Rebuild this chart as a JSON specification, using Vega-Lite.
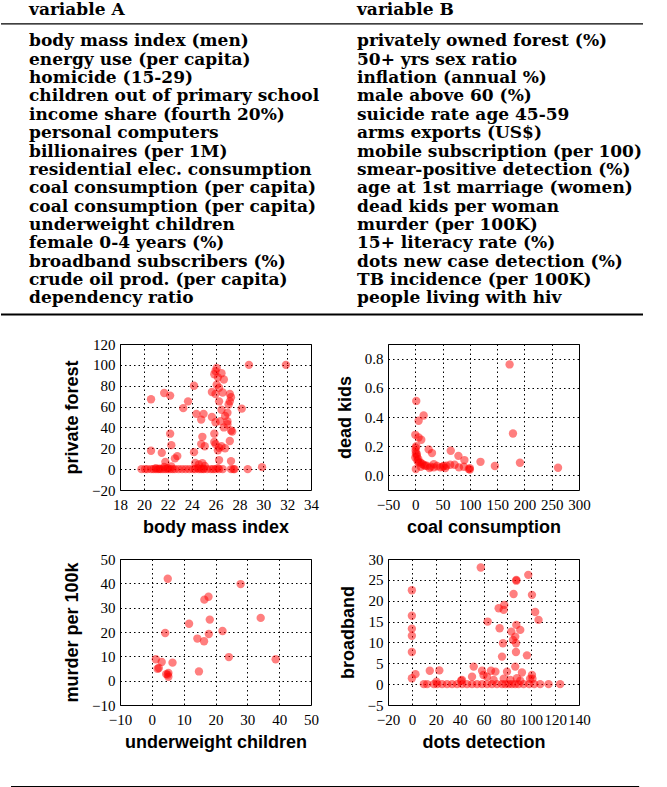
{
  "$schema": "https://vega.github.io/schema/vega-lite/v6.json",
  "padding": 0,
  "background": "white",
  "spacing": 10,
  "config": {
    "view": {"stroke": null},
    "axis": {
      "grid": true, "gridColor": "black", "gridDash": [1.5, 3], "gridOpacity": 1, "gridWidth": 1,
      "domain": false, "ticks": false,
      "labelFont": "Liberation Serif", "labelFontSize": 15, "labelColor": "black",
      "titleFont": "Liberation Sans", "titleFontSize": 18, "titleFontWeight": "bold", "titleColor": "black",
      "labelOverlap": false, "labelFlush": false
    },
    "axisX": {"labelPadding": 7, "titlePadding": 6},
    "axisY": {"labelPadding": 5, "titlePadding": 10},
    "point": {"filled": true, "color": "#ff0000", "opacity": 0.5, "size": 70, "strokeWidth": 0}
  },
  "datasets": {
    "table": [
      {"i": 0, "a": "body mass index (men)", "b": "privately owned forest (%)"},
      {"i": 1, "a": "energy use (per capita)", "b": "50+ yrs sex ratio"},
      {"i": 2, "a": "homicide (15-29)", "b": "inflation (annual %)"},
      {"i": 3, "a": "children out of primary school", "b": "male above 60 (%)"},
      {"i": 4, "a": "income share (fourth 20%)", "b": "suicide rate age 45-59"},
      {"i": 5, "a": "personal computers", "b": "arms exports (US$)"},
      {"i": 6, "a": "billionaires (per 1M)", "b": "mobile subscription (per 100)"},
      {"i": 7, "a": "residential elec. consumption", "b": "smear-positive detection (%)"},
      {"i": 8, "a": "coal consumption (per capita)", "b": "age at 1st marriage (women)"},
      {"i": 9, "a": "coal consumption (per capita)", "b": "dead kids per woman"},
      {"i": 10, "a": "underweight children", "b": "murder (per 100K)"},
      {"i": 11, "a": "female 0-4 years (%)", "b": "15+ literacy rate (%)"},
      {"i": 12, "a": "broadband subscribers (%)", "b": "dots new case detection (%)"},
      {"i": 13, "a": "crude oil prod. (per capita)", "b": "TB incidence (per 100K)"},
      {"i": 14, "a": "dependency ratio", "b": "people living with hiv"}
    ],
    "p1": [
      {"x":28.8,"y":100},{"x":31.9,"y":100},{"x":26.1,"y":97},{"x":26.0,"y":94},{"x":25.9,"y":91},{"x":26.5,"y":92},{"x":26.2,"y":88},{"x":26.7,"y":86},
      {"x":24.2,"y":80},{"x":26.1,"y":81},{"x":26.3,"y":78},{"x":21.7,"y":73},{"x":22.2,"y":70.5},{"x":20.6,"y":67},{"x":23.7,"y":65},{"x":23.3,"y":58.5},
      {"x":25.7,"y":74},{"x":26.0,"y":72},{"x":26.6,"y":73.5},{"x":27.2,"y":72},{"x":27.3,"y":69},{"x":27.2,"y":65},{"x":26.3,"y":65},{"x":27.1,"y":62},
      {"x":26.5,"y":57},{"x":27.0,"y":54},{"x":26.8,"y":51},{"x":28.2,"y":58},{"x":24.4,"y":53},{"x":25.0,"y":53},{"x":24.8,"y":47.5},{"x":25.7,"y":50},
      {"x":26.0,"y":45},{"x":26.4,"y":46},{"x":27.0,"y":46},{"x":26.7,"y":40},{"x":27.0,"y":43},{"x":27.3,"y":37},{"x":27.4,"y":36},{"x":22.2,"y":34},
      {"x":25.9,"y":34},{"x":26.0,"y":24},{"x":26.3,"y":20.5},{"x":26.5,"y":22},{"x":25.9,"y":26},{"x":24.9,"y":31},{"x":24.8,"y":24},{"x":25.1,"y":22},
      {"x":27.2,"y":27},{"x":26.8,"y":20},{"x":26.2,"y":18},{"x":22.3,"y":23},{"x":20.6,"y":17.6},{"x":21.5,"y":15.7},{"x":24.2,"y":16.3},{"x":22.8,"y":12.5},
      {"x":22.6,"y":10.3},{"x":26.3,"y":8.7},{"x":27.3,"y":7.7},{"x":21.8,"y":7},{"x":24.3,"y":6},{"x":24.9,"y":5.8},{"x":24.6,"y":4.5},{"x":21.7,"y":2},
      {"x":22.3,"y":2.5},{"x":25.1,"y":3},{"x":29.9,"y":1.9},{"x":21.0,"y":1},{"x":21.3,"y":0.5},{"x":22.0,"y":1},{"x":24.5,"y":1},{"x":25.0,"y":0.5},{"x":26.2,"y":1},
      {"x":19.8,"y":0},{"x":20.1,"y":0},{"x":20.3,"y":0},{"x":20.6,"y":0},{"x":20.8,"y":0},{"x":21.0,"y":0},{"x":21.2,"y":0},{"x":21.4,"y":0},
      {"x":21.6,"y":0},{"x":21.8,"y":0},{"x":22.0,"y":0},{"x":22.2,"y":0},{"x":22.4,"y":0},{"x":22.6,"y":0},{"x":22.9,"y":0},{"x":23.2,"y":0},
      {"x":23.5,"y":0},{"x":23.8,"y":0},{"x":24.1,"y":0},{"x":24.3,"y":0},{"x":24.6,"y":0},{"x":24.8,"y":0},{"x":25.0,"y":0},{"x":25.3,"y":0},
      {"x":25.6,"y":0},{"x":25.8,"y":0},{"x":26.0,"y":0},{"x":26.3,"y":0},{"x":26.6,"y":0},{"x":27.3,"y":0},{"x":27.5,"y":0},{"x":27.6,"y":0},{"x":28.7,"y":0}
    ],
    "p2": [
      {"x":172.8,"y":0.76},{"x":179,"y":0.287},{"x":191.8,"y":0.087},{"x":261.6,"y":0.052},{"x":145.8,"y":0.064},{"x":119.5,"y":0.093},{"x":1.8,"y":0.51},
      {"x":15.3,"y":0.41},{"x":6.1,"y":0.374},{"x":0,"y":0.278},{"x":6,"y":0.26},{"x":11,"y":0.244},{"x":65,"y":0.169},{"x":79,"y":0.134},{"x":90,"y":0.105},
      {"x":24.5,"y":0.178},{"x":30.6,"y":0.153},{"x":0.6,"y":0.19},{"x":0.6,"y":0.168},{"x":3,"y":0.146},{"x":0,"y":0.123},{"x":5.5,"y":0.112},{"x":9,"y":0.089},
      {"x":15,"y":0.073},{"x":21,"y":0.066},{"x":26,"y":0.05},{"x":34,"y":0.077},{"x":40,"y":0.064},{"x":50,"y":0.059},{"x":57,"y":0.066},{"x":64,"y":0.073},
      {"x":72,"y":0.073},{"x":80,"y":0.055},{"x":89,"y":0.059},{"x":98,"y":0.043},{"x":100,"y":0.04},{"x":1,"y":0.043},{"x":34,"y":0.055},{"x":46,"y":0.055},
      {"x":18,"y":0.066},{"x":6,"y":0.089},{"x":10,"y":0.059},{"x":52,"y":0.064},{"x":2,"y":0.2},{"x":1,"y":0.15},{"x":4,"y":0.1},{"x":3,"y":0.13},
      {"x":12,"y":0.08},{"x":28,"y":0.06},{"x":100,"y":0.05},{"x":55,"y":0.05}
    ],
    "p3": [
      {"x":5.0,"y":41.9},{"x":27.9,"y":39.7},{"x":17.8,"y":34.5},{"x":16.5,"y":33.3},{"x":34.2,"y":25.8},{"x":18.2,"y":25.1},{"x":11.7,"y":23.4},{"x":22.2,"y":20.4},
      {"x":4.2,"y":19.6},{"x":17.9,"y":19.2},{"x":14.3,"y":17.3},{"x":16.4,"y":16.2},{"x":24.2,"y":9.7},{"x":38.9,"y":8.8},{"x":1.25,"y":8.8},{"x":3.1,"y":7.7},
      {"x":6.5,"y":7.4},{"x":1.8,"y":4.9},{"x":2.2,"y":5.2},{"x":14.8,"y":3.8},{"x":4.5,"y":2.7},{"x":5.2,"y":3.2},{"x":5.2,"y":1.6},{"x":5.0,"y":2.5}
    ],
    "p4": [
      {"x":57.7,"y":27.95},{"x":97.5,"y":26.2},{"x":87.5,"y":25.0},{"x":87.5,"y":24.8},{"x":0,"y":22.5},{"x":85.2,"y":21.6},{"x":100.6,"y":21.4},{"x":72.7,"y":18.2},
      {"x":76.9,"y":17.8},{"x":77.4,"y":19},{"x":103.3,"y":17.3},{"x":106.1,"y":15.4},{"x":0,"y":16.4},{"x":63.5,"y":15.0},{"x":0,"y":13.3},{"x":0,"y":11.6},
      {"x":73.5,"y":13.4},{"x":83.3,"y":12.6},{"x":87.5,"y":14.2},{"x":90.8,"y":13.0},{"x":86.6,"y":11.4},{"x":87.2,"y":9.8},{"x":76.3,"y":9.8},{"x":84.7,"y":10.6},
      {"x":0,"y":7.7},{"x":87.2,"y":7.7},{"x":75.5,"y":6.6},{"x":96.4,"y":6.9},{"x":51.8,"y":4.2},{"x":86.6,"y":4.2},{"x":0,"y":1.4},{"x":3,"y":2.4},
      {"x":15,"y":3.2},{"x":23,"y":3.3},{"x":58.8,"y":3.2},{"x":66.3,"y":3.2},{"x":70,"y":3.0},{"x":79.7,"y":3.0},{"x":92.2,"y":2.8},{"x":100.6,"y":2.2},
      {"x":60,"y":2.2},{"x":62.9,"y":1.8},{"x":50.4,"y":1.8},{"x":42,"y":1.0},{"x":101,"y":1.3},
      {"x":20.6,"y":0.6},{"x":41.2,"y":0.8},{"x":68.5,"y":1.0},{"x":76.9,"y":1.3},{"x":82.5,"y":1.0},{"x":88,"y":1.4},{"x":90.8,"y":0.8},{"x":99,"y":1.3},
      {"x":10,"y":0},{"x":12.8,"y":0},{"x":18.4,"y":0},{"x":21.2,"y":0},{"x":25.3,"y":0},{"x":29.5,"y":0},{"x":33.7,"y":0},{"x":37.9,"y":0},
      {"x":42,"y":0},{"x":46.2,"y":0},{"x":50.4,"y":0},{"x":54.6,"y":0},{"x":58.8,"y":0},{"x":63,"y":0},{"x":67.1,"y":0},{"x":71.3,"y":0},
      {"x":75.5,"y":0},{"x":78.3,"y":0},{"x":81,"y":0},{"x":83.8,"y":0},{"x":86.6,"y":0},{"x":89.4,"y":0},{"x":93.6,"y":0},{"x":98.3,"y":0},
      {"x":102.5,"y":0},{"x":107.5,"y":0},{"x":114.5,"y":0},{"x":124.2,"y":0}
    ]
  },
  "vconcat": [
    {
      "width": 642, "height": 325,
      "layer": [
        {
          "data": {"name": "table"},
          "mark": {"type": "text", "align": "left", "baseline": "middle", "font": "DejaVu Serif", "fontWeight": "bold", "fontSize": 17, "color": "black"},
          "encoding": {
            "x": {"datum": 0, "type": "quantitative", "scale": {"domain": [-0.0854, 1.872], "nice": false, "zero": false}, "axis": null},
            "y": {"field": "i", "type": "quantitative", "scale": {"domain": [-2.2, 15.5], "nice": false, "zero": false, "reverse": true}, "axis": null},
            "text": {"field": "a"}
          }
        },
        {
          "data": {"name": "table"},
          "mark": {"type": "text", "align": "left", "baseline": "middle", "font": "DejaVu Serif", "fontWeight": "bold", "fontSize": 17, "color": "black"},
          "encoding": {
            "x": {"datum": 1, "type": "quantitative"},
            "y": {"field": "i", "type": "quantitative"},
            "text": {"field": "b"}
          }
        },
        {
          "data": {"values": [{"h": "variable A", "c": 0}, {"h": "variable B", "c": 1}]},
          "mark": {"type": "text", "align": "left", "baseline": "middle", "font": "DejaVu Serif", "fontWeight": "bold", "fontSize": 17, "color": "black"},
          "encoding": {
            "x": {"field": "c", "type": "quantitative"},
            "y": {"datum": -1.73, "type": "quantitative"},
            "text": {"field": "h"}
          }
        },
        {
          "data": {"values": [{}]},
          "mark": {"type": "rule", "color": "black", "strokeWidth": 1.3},
          "encoding": {
            "x": {"datum": -0.0854, "type": "quantitative"},
            "x2": {"datum": 1.872},
            "y": {"datum": -0.95, "type": "quantitative"}
          }
        },
        {
          "data": {"values": [{}]},
          "mark": {"type": "rule", "color": "black", "strokeWidth": 2},
          "encoding": {
            "x": {"datum": -0.0854, "type": "quantitative"},
            "x2": {"datum": 1.872},
            "y": {"datum": 14.88, "type": "quantitative"}
          }
        }
      ]
    },
    {
      "spacing": 0,
      "hconcat": [
        {"width": 62, "height": 10, "data": {"values": []}, "mark": "point"},
        {
          "columns": 2,
          "spacing": {"row": 14, "column": 16},
          "concat": [
            {
              "width": 191, "height": 146, "view": {"stroke": "black", "strokeWidth": 1},
              "data": {"name": "p1"},
              "mark": "point",
              "encoding": {
                "x": {"field": "x", "type": "quantitative", "title": "body mass index", "scale": {"domain": [18, 34], "nice": false, "zero": false}, "axis": {"values": [18,20,22,24,26,28,30,32,34]}},
                "y": {"field": "y", "type": "quantitative", "title": "private forest", "scale": {"domain": [-20, 120], "nice": false, "zero": false}, "axis": {"values": [-20,0,20,40,60,80,100,120]}}
              }
            },
            {
              "width": 191, "height": 146, "view": {"stroke": "black", "strokeWidth": 1},
              "data": {"name": "p2"},
              "mark": "point",
              "encoding": {
                "x": {"field": "x", "type": "quantitative", "title": "coal consumption", "scale": {"domain": [-50, 300], "nice": false, "zero": false}, "axis": {"values": [-50,0,50,100,150,200,250,300]}},
                "y": {"field": "y", "type": "quantitative", "title": "dead kids", "scale": {"domain": [-0.1, 0.9], "nice": false, "zero": false}, "axis": {"values": [0,0.2,0.4,0.6,0.8], "format": ".1f"}}
              }
            },
            {
              "width": 191, "height": 146, "view": {"stroke": "black", "strokeWidth": 1},
              "data": {"name": "p3"},
              "mark": "point",
              "encoding": {
                "x": {"field": "x", "type": "quantitative", "title": "underweight children", "scale": {"domain": [-10, 50], "nice": false, "zero": false}, "axis": {"values": [-10,0,10,20,30,40,50]}},
                "y": {"field": "y", "type": "quantitative", "title": "murder per 100k", "scale": {"domain": [-10, 50], "nice": false, "zero": false}, "axis": {"values": [-10,0,10,20,30,40,50]}}
              }
            },
            {
              "width": 191, "height": 146, "view": {"stroke": "black", "strokeWidth": 1},
              "data": {"name": "p4"},
              "mark": "point",
              "encoding": {
                "x": {"field": "x", "type": "quantitative", "title": "dots detection", "scale": {"domain": [-20, 140], "nice": false, "zero": false}, "axis": {"values": [-20,0,20,40,60,80,100,120,140]}},
                "y": {"field": "y", "type": "quantitative", "title": "broadband", "scale": {"domain": [-5, 30], "nice": false, "zero": false}, "axis": {"values": [-5,0,5,10,15,20,25,30]}}
              }
            }
          ]
        }
      ]
    },
    {
      "width": 642, "height": 25,
      "data": {"values": [{}]},
      "mark": {"type": "rule", "color": "black", "strokeWidth": 2},
      "encoding": {
        "x": {"datum": 0.0156, "type": "quantitative", "scale": {"domain": [0, 1], "nice": false, "zero": false}, "axis": null},
        "x2": {"datum": 0.994},
        "y": {"datum": 0, "type": "quantitative", "scale": {"domain": [0, 1], "nice": false, "zero": false}, "axis": null}
      }
    }
  ]
}
